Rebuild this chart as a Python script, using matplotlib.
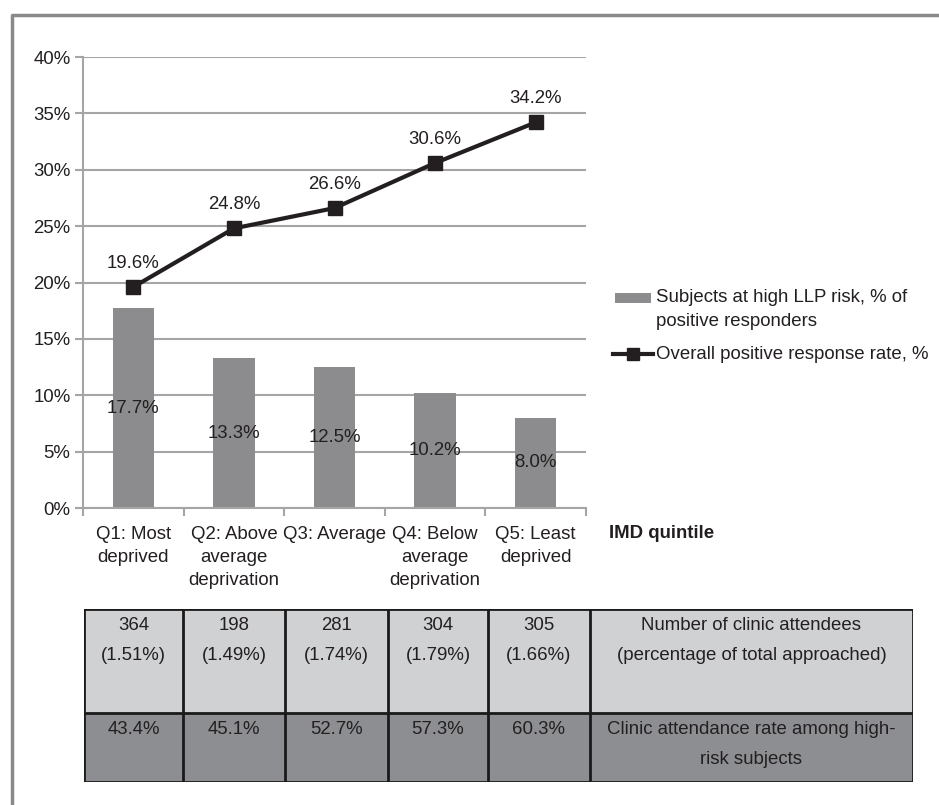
import matplotlib
matplotlib.use("Agg")
import matplotlib.pyplot as plt
from matplotlib.lines import Line2D
from matplotlib.patches import Rectangle

plt.rcParams['font.family'] = ['Liberation Sans', 'DejaVu Sans']

# Data
categories = ["Q1: Most\ndeprived", "Q2: Above\naverage\ndeprivation", "Q3: Average",
              "Q4: Below\naverage\ndeprivation", "Q5: Least\ndeprived"]
high_risk_pct = [17.7, 13.3, 12.5, 10.2, 8.0]
response_rate = [19.6, 24.8, 26.6, 30.6, 34.2]
y_ticks = [0, 5, 10, 15, 20, 25, 30, 35, 40]
attendees = [364, 198, 281, 304, 305]
attendees_pct = [1.51, 1.49, 1.74, 1.79, 1.66]
attendance_rate = [43.4, 45.1, 52.7, 57.3, 60.3]
row_labels = ["Number of clinic attendees\n(percentage of total approached)",
              "Clinic attendance rate among high-\nrisk subjects"]
bar_label = "Subjects at high LLP risk, % of\npositive responders"
line_label = "Overall positive response rate, %"
x_title = "IMD quintile"

W, H = 939, 805
fig = plt.figure(figsize=(W / 100, H / 100), dpi=100)

TXT = "#231f20"
BAR = "#8c8c8f"
GRID = "#a5a5a5"
FS = 13.4


def fbox(x0, y0, x1, y1):
    return [x0 / W, 1 - y1 / H, (x1 - x0) / W, (y1 - y0) / H]


def fx(px):
    return px / W


def fy(py):
    return 1 - py / H


# Outer frame (top and left edges)
fig.add_artist(Line2D([fx(12), fx(12), 1.0], [0.0, fy(15), fy(15)],
                      transform=fig.transFigure, color="#8a8a8a", lw=2.5))

ax = fig.add_axes(fbox(83, 57, 586, 508))
x = list(range(len(categories)))
ax.bar(x, high_risk_pct, width=0.41, color=BAR, zorder=2)
ax.plot(x, response_rate, color=TXT, lw=3, marker="s", ms=10, zorder=3)

for xi, v in zip(x, high_risk_pct):
    ax.text(xi, v / 2, f"{v:.1f}%", ha="center", va="center", fontsize=FS, color=TXT, zorder=4)
for xi, v in zip(x, response_rate):
    ax.annotate(f"{v:.1f}%", (xi, v), xytext=(0, 17), textcoords="offset points",
                ha="center", va="center", fontsize=FS, color=TXT)

ax.set_xlim(-0.5, len(categories) - 0.5)
ax.set_ylim(0, 40)
ax.set_yticks(y_ticks)
ax.set_yticklabels([f"{t}%" for t in y_ticks], fontsize=FS, color=TXT)
ax.set_xticks(x)
ax.set_xticklabels(categories, fontsize=FS, color=TXT, linespacing=1.45)
ax.tick_params(axis="x", length=0, pad=13)
ax.set_xticks([i - 0.5 for i in range(len(categories) + 1)], minor=True)
ax.tick_params(axis="x", which="minor", length=6, color=GRID, width=1.5)
ax.tick_params(axis="y", length=6, color=GRID, width=1.5, pad=3)
ax.yaxis.grid(True, color=GRID, lw=1.5, zorder=0)
ax.set_axisbelow(True)
for s in ["top", "right"]:
    ax.spines[s].set_visible(False)
for s in ["left", "bottom"]:
    ax.spines[s].set_color(GRID)
    ax.spines[s].set_linewidth(1.5)

# Legend keys
fig.add_artist(Rectangle((fx(615), fy(303)), fx(651) - fx(615), fy(293) - fy(303),
                         transform=fig.transFigure, facecolor=BAR, edgecolor="none"))
fig.text(fx(656), fy(289), bar_label, fontsize=FS, color=TXT, va="top", ha="left",
         linespacing=1.5)
fig.add_artist(Line2D([fx(613), fx(653)], [fy(354), fy(354)], transform=fig.transFigure,
                      color=TXT, lw=3))
fig.add_artist(Line2D([fx(633)], [fy(354)], transform=fig.transFigure, color=TXT,
                      marker="s", ms=8.5, lw=0))
fig.text(fx(656), fy(354), line_label, fontsize=FS, color=TXT, va="center", ha="left")

fig.text(fx(609), fy(533), x_title, fontsize=FS, fontweight="bold",
         color=TXT, va="center", ha="left")

# Table below the chart
tx0, ty0, tx1, ty1 = 84, 609, 913, 782
tab = fig.add_axes(fbox(tx0, ty0, tx1, ty1))
tab.set_xlim(tx0, tx1)
tab.set_ylim(ty1, ty0)
tab.axis("off")
col_edges = [84, 183, 285, 388, 488, 590, 913]
row_edges = [609, 713, 782]
row_colors = ["#d0d1d3", "#8d8e91"]
for r in range(2):
    tab.add_patch(Rectangle((tx0, row_edges[r]), tx1 - tx0, row_edges[r + 1] - row_edges[r],
                            facecolor=row_colors[r], edgecolor="none", zorder=1))
for cx in col_edges:
    tab.plot([cx, cx], [ty0, ty1], color="#1a1a1a", lw=2, zorder=2, solid_capstyle="projecting")
for ry in row_edges:
    tab.plot([tx0, tx1], [ry, ry], color="#1a1a1a", lw=2, zorder=2, solid_capstyle="projecting")

row1 = [f"{n}\n({p:.2f}%)" for n, p in zip(attendees, attendees_pct)]
row2 = [f"{v:.1f}%" for v in attendance_rate]
for r, (cells, lab) in enumerate(zip([row1, row2], row_labels)):
    ytop = row_edges[r] + 8
    for c, txt in enumerate(cells + [lab]):
        cx = (col_edges[c] + col_edges[c + 1]) / 2
        tab.text(cx, ytop, txt, ha="center", va="top", fontsize=FS, color=TXT,
                 linespacing=1.97, zorder=3)

fig.savefig("out.png", dpi=100)
